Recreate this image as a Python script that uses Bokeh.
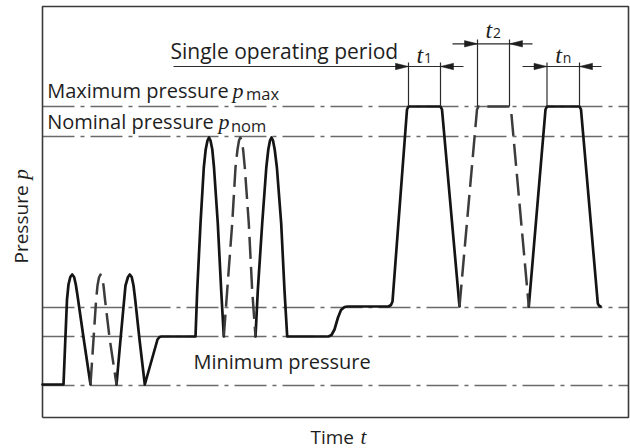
import numpy as np
from bokeh.plotting import figure
from bokeh.models import Range1d
from bokeh.core.properties import value
from bokeh.embed import file_html
from bokeh.resources import INLINE

# ---------------- data (arbitrary time / pressure units) ----------------
t_box_end = 586          # end of the time window
p_box_top = 411          # top of the pressure window

# horizontal reference pressure levels
level_names = ["minimum", "low", "mid", "nominal", "maximum"]
level_values = [32, 81, 110, 281, 311]

# solid pressure trace segments
solid_a_t = [0, 21, 22.5, 24.5, 26, 27.8, 29.7, 31.6, 33.3, 35, 41, 48]
solid_a_p = [33, 33, 70, 118, 133, 140.5, 143, 140.5, 133, 122, 80, 33]

solid_b_t = [74, 78, 81.5, 83, 85.5, 87.3, 89.2, 91, 92.7, 97, 102.3, 115, 117, 119, 153,
             154.7, 158, 161.3, 163.2, 165, 166.5, 168, 169.8, 171.5, 175.3, 178.7, 181.3]
solid_b_p = [33, 78, 116, 132, 140.5, 143, 140.5, 132, 118, 78, 33, 78, 80.5, 81, 81,
             127, 194, 250, 268, 277, 280, 277, 268, 250, 194, 127, 81]

solid_c_t = [213, 215.3, 219.7, 223.8, 225.8, 227.5, 229, 230.5, 232.2, 234.4, 238.7, 242, 244.7,
             286, 289, 292, 295.5, 298.5, 302, 305, 346, 348.5, 350, 364.5, 366, 398, 399.5, 417]
solid_c_p = [81, 127, 194, 250, 268, 277, 280, 277, 268, 250, 194, 127, 81,
             81, 82.5, 88, 100, 107.5, 110.5, 111, 111, 112.5, 116, 308, 311, 311, 308, 111]

solid_d_t = [486.3, 503, 504.5, 537, 538.5, 555.3, 556.5, 558]
solid_d_p = [111, 308, 311, 311, 308, 114, 111.8, 111]

# dashed (repeated) cycles
dash_a_t = [48, 51, 53.5, 55, 56.5, 58, 59.5, 61, 62.5, 67, 74]
dash_a_p = [33, 78, 116, 132, 140, 143, 140, 132, 118, 80, 33]

dash_b_t = [181.3, 184.7, 189.7, 193, 195, 196.5, 197.8, 199.2, 200.6, 202.3, 206.3, 209.7, 213]
dash_b_p = [81, 127, 194, 250, 268, 277, 280, 277, 268, 250, 194, 127, 81]

dash_c_t = [417, 434.5, 436, 467, 468.5, 486.3]
dash_c_p = [111, 308, 311, 311, 308, 111]

# operating period dimensions
dim_subs = ["1", "2", "n"]
dim_start = [366, 435, 504.5]
dim_end = [398, 467, 537]
dim_level = [351, 373.7, 351]
dim_reach_left = [131, 410, 480]
dim_reach_right = [421, 490, 559]
dim_ext_top = [355, 378, 355]
dim_label_base = [356, 381, 356]

# text placements (baselines)
label_texts = ["Maximum pressure", "Nominal pressure", "Minimum pressure"]
label_t = [4.7, 4.7, 151]
label_p = [320.3, 288.7, 49]
period_text = "Single operating period"
period_t, period_p = 128, 359.7

# ---------------- figure ----------------
p = figure(width=630, height=448, output_backend="svg", toolbar_location=None,
           x_range=Range1d(-42, 588), y_range=Range1d(-31, 417),
           x_axis_location=None, y_axis_location=None,
           min_border=0, min_border_left=0, min_border_right=0,
           min_border_top=0, min_border_bottom=0)
p.outline_line_color = None
p.grid.visible = False
p.background_fill_color = "white"
p.border_fill_color = "white"

TXT = "#1e1e1e"
SANS = value("Open Sans")
SERIF = value("Liberation Serif")
SH = 7   # baseline correction for the renderer's text placement

# reference dash-dot levels
p.multi_line(xs=[[0, t_box_end] for _ in level_values],
             ys=[[v, v] for v in level_values],
             line_color="#6a6a6a", line_width=1.3, line_dash="32 6 4 6")

# box
p.line(x=[0, t_box_end, t_box_end, 0, 0], y=[0, 0, p_box_top, p_box_top, 0],
       line_color="#3a3a3a", line_width=1.6)

# traces
p.multi_line(xs=[solid_a_t, solid_b_t, solid_c_t, solid_d_t],
             ys=[solid_a_p, solid_b_p, solid_c_p, solid_d_p],
             line_color="#141414", line_width=2.7, line_join="round", line_cap="round")
p.multi_line(xs=[dash_a_t, dash_b_t, dash_c_t],
             ys=[dash_a_p, dash_b_p, dash_c_p],
             line_color="#3c3c3c", line_width=2.5, line_dash="22 8", line_join="round")

# dimension lines
ext_xs, ext_ys, dl_xs, dl_ys, tri_xs, tri_ys = [], [], [], [], [], []
HL, HW = 13, 3.2
for a, b, y, l, r, top in zip(dim_start, dim_end, dim_level, dim_reach_left,
                              dim_reach_right, dim_ext_top):
    ext_xs += [[a, a], [b, b]]
    ext_ys += [[level_values[4], top], [level_values[4], top]]
    dl_xs.append([l, r])
    dl_ys.append([y, y])
    tri_xs += [[a, a - HL, a - HL], [b, b + HL, b + HL]]
    tri_ys += [[y, y + HW, y - HW], [y, y + HW, y - HW]]
p.multi_line(xs=ext_xs, ys=ext_ys, line_color="#2a2a2a", line_width=1.2)
p.multi_line(xs=dl_xs, ys=dl_ys, line_color="#2a2a2a", line_width=1.2)
p.patches(xs=tri_xs, ys=tri_ys, fill_color="#1e1e1e", line_color="#1e1e1e", line_width=0.5)

centers = [(a + b) / 2 for a, b in zip(dim_start, dim_end)]
p.text(x=[c - 8 for c in centers], y=[b + SH for b in dim_label_base], text=["t"] * 3,
       text_font=SERIF, text_font_style="italic", text_font_size="24px",
       text_color=TXT, text_baseline="alphabetic", text_align="left")
p.text(x=[c - 0.5 for c in centers], y=[b - 3 + SH for b in dim_label_base], text=dim_subs,
       text_font=SANS, text_font_size="14px",
       text_color=TXT, text_baseline="alphabetic", text_align="left")

# texts
p.text(x=[period_t], y=[period_p + SH], text=[period_text],
       text_font=SANS, text_font_size="21px", text_color=TXT,
       text_baseline="alphabetic", text_align="left")
p.text(x=label_t, y=[v + SH for v in label_p], text=label_texts,
       text_font=SANS, text_font_size="20px", text_color=TXT,
       text_baseline="alphabetic", text_align="left")
p.text(x=[190, 176], y=[320.3 + SH, 288.7 + SH], text=["p", "p"],
       text_font=SERIF, text_font_style="italic", text_font_size="22px", text_color=TXT,
       text_baseline="alphabetic", text_align="left")
p.text(x=[203.5, 188.5], y=[317 + SH, 285.3 + SH], text=["max", "nom"],
       text_font=SANS, text_font_size="16.5px", text_color=TXT,
       text_baseline="alphabetic", text_align="left")

# axis titles
p.text(x=[268], y=[-26 + SH], text=["Time"], text_font=SANS, text_font_size="19px",
       text_color=TXT, text_baseline="alphabetic", text_align="left")
p.text(x=[318], y=[-26 + SH], text=["t"], text_font=SERIF, text_font_style="italic",
       text_font_size="21px", text_color=TXT, text_baseline="alphabetic", text_align="left")
p.text(x=[-15 - SH], y=[154], text=["Pressure"], angle=np.pi / 2, text_font=SANS,
       text_font_size="19px", text_color=TXT, text_baseline="alphabetic", text_align="left")
p.text(x=[-15 - SH], y=[238], text=["p"], angle=np.pi / 2, text_font=SERIF,
       text_font_style="italic", text_font_size="21px", text_color=TXT,
       text_baseline="alphabetic", text_align="left")

open("out.html", "w").write(file_html(p, INLINE))
